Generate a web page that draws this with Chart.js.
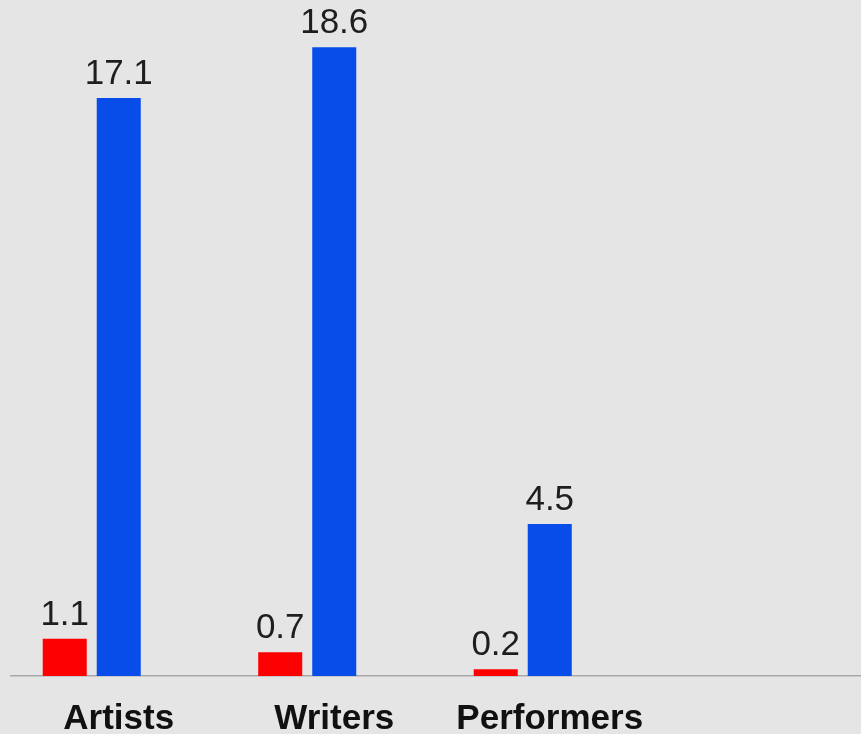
<!DOCTYPE html>
<html>
<head>
<meta charset="utf-8">
<script src="https://cdn.jsdelivr.net/npm/chart.js@4/dist/chart.umd.min.js"></script>
<style>
  html, body { margin: 0; padding: 0; background: #e5e5e5; overflow: hidden; }
  #wrap { width: 873px; height: 734px; }
</style>
</head>
<body>
<div id="wrap"><canvas id="chart" width="873" height="734"></canvas></div>
<script>
const categories = ['Artists', 'Writers', 'Performers', ''];
const redSeries = [1.1, 0.7, 0.2];
const blueSeries = [17.1, 18.6, 4.5];
// third series has no values; it keeps its slot in each group
const thirdSeries = [null, null, null];
const yTicks = { min: 0, max: 20 };

const valueLabels = {
  id: 'valueLabels',
  afterDatasetsDraw(chart) {
    const ctx = chart.ctx;
    ctx.save();
    ctx.font = '35px "Liberation Sans", Arial, sans-serif';
    ctx.fillStyle = '#1e1e1e';
    ctx.textAlign = 'center';
    ctx.textBaseline = 'alphabetic';
    [0, 1].forEach(di => {
      const meta = chart.getDatasetMeta(di);
      const data = chart.data.datasets[di].data;
      meta.data.forEach((bar, i) => {
        if (data[i] == null) return;
        ctx.fillText(data[i].toFixed(1), bar.x, bar.y - 14);
      });
    });
    ctx.restore();
  }
};

new Chart(document.getElementById('chart'), {
  type: 'bar',
  data: {
    labels: categories,
    datasets: [
      { data: redSeries, backgroundColor: '#fd0000' },
      { data: blueSeries, backgroundColor: '#084de9' },
      { data: thirdSeries, backgroundColor: '#888888' }
    ]
  },
  options: {
    responsive: false,
    animation: false,
    categoryPercentage: 0.752,
    barPercentage: 0.815,
    layout: { padding: { left: 11, right: 0, top: 0, bottom: 0 } },
    plugins: { legend: { display: false }, tooltip: { enabled: false } },
    scales: {
      x: {
        afterFit(scale) { scale.height = 58; },
        grid: { display: false, drawTicks: false },
        border: { display: true, color: '#a9a9a9', width: 1.5 },
        ticks: {
          padding: 22,
          color: '#111',
          font: { family: '"Liberation Sans", Arial, sans-serif', size: 35, weight: 'bold' }
        }
      },
      y: {
        display: false,
        min: yTicks.min,
        max: yTicks.max
      }
    }
  },
  plugins: [valueLabels]
});
</script>
</body>
</html>
